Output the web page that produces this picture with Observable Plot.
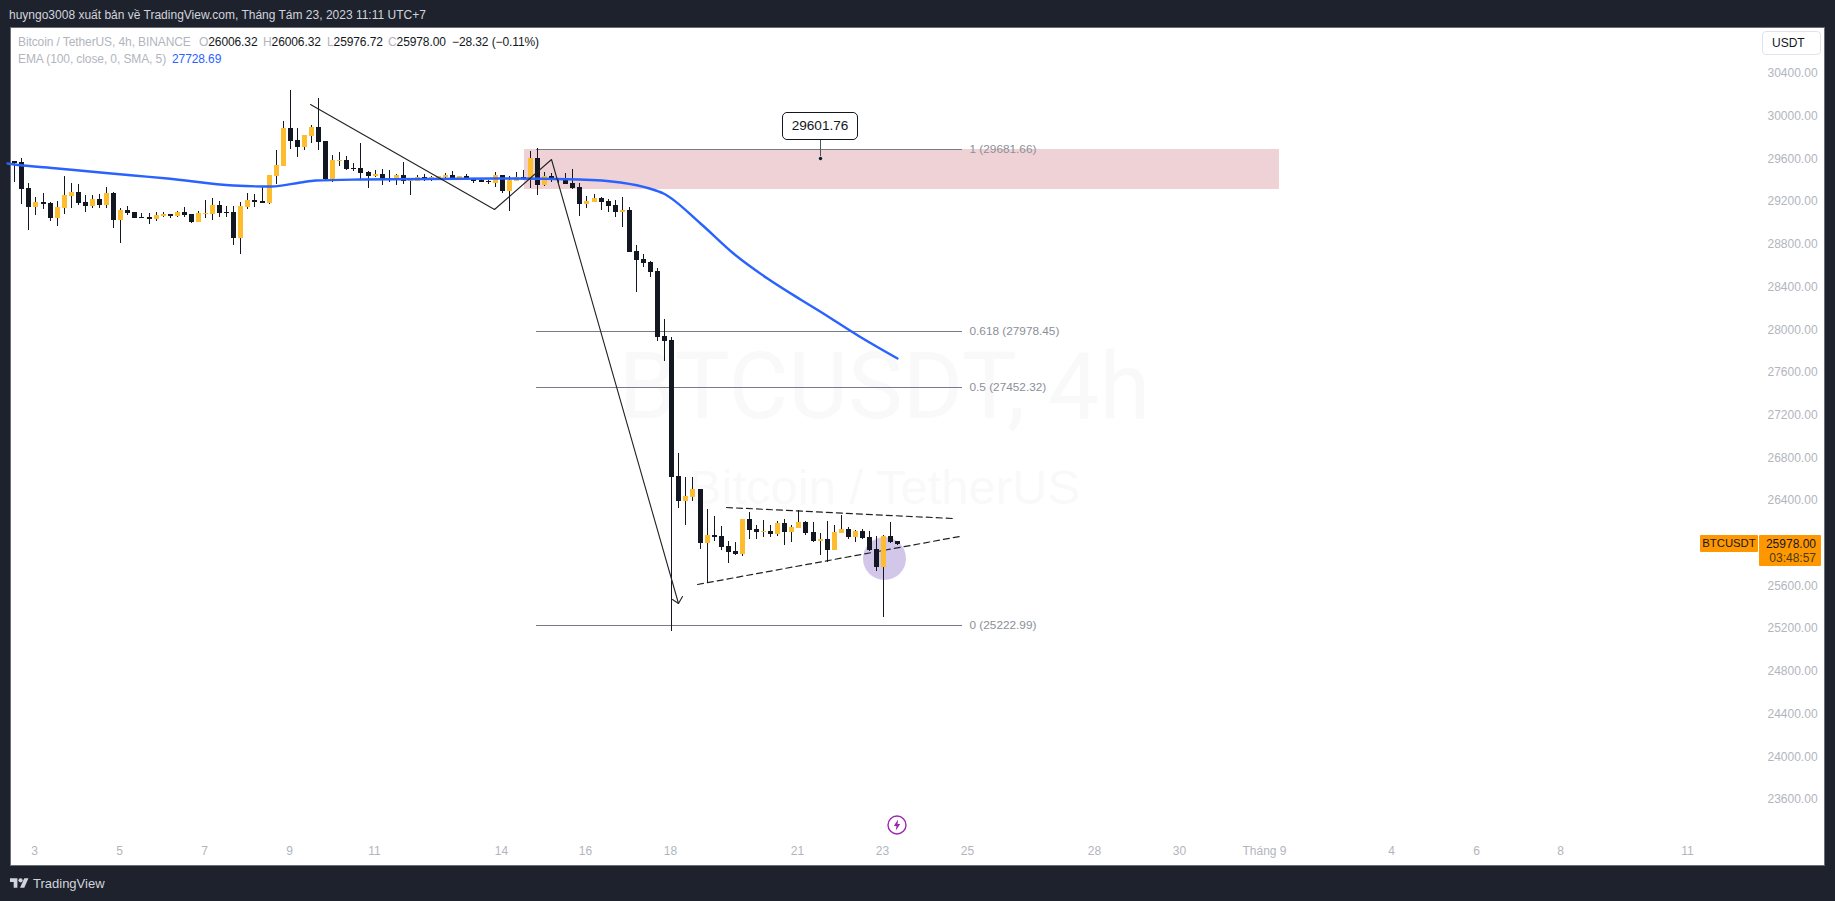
<!DOCTYPE html>
<html><head><meta charset="utf-8">
<script src="https://cdn.jsdelivr.net/npm/d3@7"></script>
<script src="https://cdn.jsdelivr.net/npm/@observablehq/plot@0.6"></script>
<style>
html,body{margin:0;padding:0;background:#1e222d;width:1835px;height:901px;overflow:hidden;font-family:"Liberation Sans",Arial,sans-serif}
#head{position:absolute;left:9px;top:7px;font-size:12px;line-height:16px;color:#d1d4dc;white-space:nowrap}
#panel{position:absolute;left:11px;top:28px;width:1813px;height:837px;background:#fff;outline:1px solid #6a6d78}
#panel svg{display:block}
.ov{position:absolute;white-space:nowrap}
.lg{font-size:12px;line-height:14px;color:#b2b5be;letter-spacing:-.1px}
.lg b{font-weight:400;color:#131722}
#foot{position:absolute;left:10px;top:875px;height:16px;display:flex;align-items:center;gap:4px;color:#d1d4dc;font-size:13px}
</style></head><body>
<div id="head">huyngo3008 xuất bản về TradingView.com, Tháng Tám 23, 2023 11:11 UTC+7</div>
<div id="panel"></div>
<div id="foot"><svg width="19" height="10" viewBox="0 0 36 18"><path fill="#d1d4dc" d="M14 18H7V7H0V0h14v18zM35 0l-8 18h-8l8-18h8z"/><circle cx="20" cy="4" r="4" fill="#d1d4dc"/></svg><span>TradingView</span></div>
<script>
const opens=[29569,29560,29316,29138,29185,29176,29038,29129,29241,29279,
29185,29148,29213,29157,29269,29016,29110,29091,29045,29045,
29026,29054,29073,29054,29091,29073,28998,29073,29073,29157,
29091,29091,28848,29138,29204,29194,29176,29429,29522,29878,
29766,29700,29803,29888,29757,29401,29569,29578,29500,29504,
29466,29429,29447,29401,29401,29438,29382,29382,29419,29391,
29410,29419,29438,29401,29429,29410,29391,29382,29363,29438,
29288,29382,29416,29401,29597,29344,29429,29391,29401,29363,
29326,29170,29185,29223,29194,29157,29091,29110,28726,28651,
28623,28539,27930,27892,26618,26384,26422,26497,25991,26066,
26056,25962,25916,25888,26215,26122,26094,26103,26075,26178,
26094,26131,26187,26094,26009,26028,25925,26084,26122,26047,
26103,26047,25934,25766,26056,26006.32];
const highs=[29569,29594,29363,29232,29269,29185,29194,29429,29363,29354,
29251,29248,29260,29326,29279,29129,29148,29091,29082,29082,
29091,29091,29073,29101,29138,29073,29101,29204,29223,29194,
29148,29148,29185,29269,29260,29326,29438,29672,29944,30234,
29878,29813,29906,30159,29757,29625,29653,29616,29547,29738,
29479,29485,29494,29485,29447,29560,29410,29438,29447,29429,
29429,29457,29476,29429,29447,29413,29410,29391,29466,29438,
29429,29466,29485,29663,29691,29466,29457,29404,29457,29494,
29363,29241,29260,29232,29213,29204,29232,29138,28782,28698,
28632,28567,28089,27920,26831,26609,26609,26497,26309,26244,
26150,26009,26000,26215,26281,26159,26206,26159,26197,26215,
26159,26300,26197,26187,26084,26197,26159,26253,26140,26112,
26122,26103,26056,26066,26187,26006.32];
const lows=[29375,29166,28926,29066,29123,29010,28963,29073,29129,29157,
29091,29129,29129,29129,28942,28801,29063,29035,29035,28979,
29007,29045,29035,29045,29045,28988,28998,29035,29016,29045,
29045,28782,28698,29120,29138,29176,29166,29354,29522,29682,
29607,29675,29738,29672,29391,29375,29522,29485,29476,29397,
29316,29419,29344,29372,29344,29354,29251,29382,29382,29382,
29391,29401,29397,29391,29391,29363,29372,29354,29326,29269,
29104,29382,29391,29316,29251,29335,29372,29363,29354,29307,
29054,29129,29185,29110,29091,29045,28951,28717,28342,28576,
28483,27883,27696,25169,26318,26159,26384,25934,25616,26009,
25925,25803,25878,25869,26028,26028,26047,26047,26056,25972,
26000,26131,26066,26000,25878,25813,25925,26084,26028,26000,
26028,25916,25728,25297,25991,25976.72];
const closes=[29550,29310,29141,29185,29166,29038,29138,29251,29279,29176,
29148,29213,29157,29269,29020,29110,29082,29035,29038,29026,
29063,29073,29054,29091,29063,28998,29082,29082,29157,29082,
29082,28848,29148,29204,29185,29176,29438,29532,29878,29757,
29700,29813,29888,29747,29401,29578,29578,29494,29497,29457,
29429,29447,29401,29410,29438,29382,29391,29419,29391,29419,
29429,29438,29401,29429,29401,29382,29372,29372,29438,29288,
29391,29419,29397,29597,29344,29429,29391,29401,29354,29316,
29166,29194,29223,29185,29148,29091,29110,28717,28642,28614,
28529,27920,27883,26612,26384,26431,26497,25991,26066,26047,
25953,25906,25888,26215,26112,26094,26103,26075,26178,26094,
26140,26187,26084,26009,26028,25925,26094,26122,26047,26103,
26037,25925,25766,26056,26000,25978];

const emaBars=[-1,0,6,12.1,16.8,21.6,31,35.2,36.4,40.4,42.5,48.9,67.7,80,85.7,89.9,91.8,97,101.7,106.5,111.2,113.8,119.6,125];
const emaValues=[29552,29544,29504,29469,29435,29407,29344,29332,29335,29369,29391,29404,29407,29404,29375,29313,29266,28985,28704,28470,28273,28173,27930,27728.69];

const fibLevels=["1","0.618","0.5","0"];
const fibPrices=[29681.66,27978.45,27452.32,25222.99];
const pathBars=[41.9,67.95,75.98,94];
const pathPrices=[30100,29117,29588,25431];
const barbBars=[93.06,94,94.56];
const barbPrices=[25466,25431,25494];
const topDashBars=[100.7,132.8], topDashPrices=[26325,26222];
const lowDashBars=[96.7,133.8], lowDashPrices=[25606,26056];

const tickDates=["2023-08-03","2023-08-05","2023-08-07","2023-08-09","2023-08-11","2023-08-14","2023-08-16","2023-08-18","2023-08-21","2023-08-23","2023-08-25","2023-08-28","2023-08-30","2023-09-01","2023-09-04","2023-09-06","2023-09-08","2023-09-11"];
const tickLabels=["3","5","7","9","11","14","16","18","21","23","25","28","30","Tháng 9","4","6","8","11"];
const priceTicks=d3.range(23600,30401,400);

const barTime=i=>new Date(Date.UTC(2023,7,2,12)+i*4*3600e3);
const candles=opens.map((o,i)=>({t:barTime(i),o,h:highs[i],l:lows[i],c:closes[i]}));
const up=candles.filter(d=>d.c>=d.o), down=candles.filter(d=>d.c<d.o);
const ema=emaBars.map((b,i)=>({t:barTime(b),v:emaValues[i]}));
const tiePath=(bs,ps)=>bs.map((b,i)=>({t:barTime(b),v:ps[i]}));
const fibStart=barTime(73.85), fibEnd=barTime(134.2), fibLabel=barTime(135.2);
const fibs=fibLevels.map((l,i)=>({l,p:fibPrices[i]}));
const tickT=tickDates.map(s=>new Date(s+"T00:00Z"));
const labelOf=new Map(tickT.map((d,i)=>[+d,tickLabels[i]]));
const mid=barTime(123.1);

const W=1813,H=837;
const chart=Plot.plot({
  width:W,height:H,marginLeft:0,marginTop:0,marginRight:57,marginBottom:22,
  style:{background:"#fff",fontFamily:"'Liberation Sans',Arial,sans-serif",fontSize:"12px",overflow:"visible"},
  x:{type:"utc",domain:[barTime(0),barTime(125)],range:[3.3,886.3],round:true},
  y:{type:"linear",domain:[30400,23600],range:[44.3,770.3],round:true},
  marks:[
    Plot.text([{t:mid,v:27440}],{x:"t",y:"v",text:()=>"BTCUSDT, 4h",fontSize:92,fontFamily:"Roboto",fill:"#f9f9fa",textAnchor:"middle"}),
    Plot.text([{t:mid,v:26509}],{x:"t",y:"v",text:()=>"Bitcoin / TetherUS",fontSize:49,fill:"#f9f9fa",textAnchor:"middle"}),
    Plot.axisY({anchor:"right",ticks:priceTicks,tickSize:0,tickPadding:0,dy:1,tickFormat:d3.format(".2f"),label:null,fill:"#b2b5be",stroke:null}),
    Plot.axisX({anchor:"bottom",ticks:tickT,tickSize:0,tickPadding:3,dx:-1,label:null,tickFormat:d=>labelOf.get(+d),fill:"#b2b5be",stroke:null}),
    Plot.rect([{a:barTime(72.15),b:barTime(179),t:29681.66,u:29307}],{x1:"a",x2:"b",y1:"t",y2:"u",fill:"#efd2d5"}),
    Plot.dot([{t:mid,v:25847}],{x:"t",y:"v",r:21.5,fill:"#d3c7e9"}),
    Plot.ruleY(fibs,{y:"p",x1:fibStart,x2:fibEnd,stroke:"#787b86",strokeWidth:1}),
    Plot.text(fibs,{x:fibLabel,y:"p",text:d=>`${d.l} (${d.p.toFixed(2)})`,textAnchor:"start",fill:"#8c8f98",fontSize:11.8}),
    Plot.line(tiePath(topDashBars,topDashPrices),{x:"t",y:"v",stroke:"#222",strokeWidth:1.2,strokeDasharray:"6,4"}),
    Plot.line(tiePath(lowDashBars,lowDashPrices),{x:"t",y:"v",stroke:"#222",strokeWidth:1.2,strokeDasharray:"6,4"}),
    Plot.ruleX(candles,{x:"t",y1:"h",y2:"l",stroke:"#131722",strokeWidth:1}),
    Plot.ruleX(up,{x:"t",y1:"o",y2:"c",stroke:"#fdbd2f",strokeWidth:5}),
    Plot.ruleX(down,{x:"t",y1:"o",y2:"c",stroke:"#131722",strokeWidth:5}),
    Plot.line(ema,{x:"t",y:"v",stroke:"#2962ff",strokeWidth:2.4,curve:"monotone-x"}),
    Plot.line(tiePath(pathBars,pathPrices),{x:"t",y:"v",stroke:"#222",strokeWidth:1.1}),
    Plot.line(tiePath(barbBars,barbPrices),{x:"t",y:"v",stroke:"#222",strokeWidth:1.1}),
    Plot.dot([{t:barTime(114),v:29601.76}],{x:"t",y:"v",r:2.2,fill:"#131722",stroke:"#fff",strokeWidth:0.8})
  ]
});
const panel=document.getElementById("panel");
panel.append(chart);
function add(html,css,cls){const d=document.createElement("div");d.className="ov "+(cls||"");d.innerHTML=html;d.style.cssText=css;panel.append(d);return d;}
const xs=chart.scale("x"),ys=chart.scale("y");
/* legend */
add("Bitcoin / TetherUS, 4h, BINANCE","left:7px;top:7px","lg");
[["O","26006.32",188],["H","26006.32",252],["L","25976.72",316],["C","25978.00",377]].forEach(([k,v,l])=>add(k+"<b>"+v+"</b>",`left:${l}px;top:7px`,"lg"));
add("<b>−28.32 (−0.11%)</b>","left:441px;top:7px","lg");
add("EMA (100, close, 0, SMA, 5)","left:7px;top:24px","lg");
add('<span style="color:#2962ff">27728.69</span>',"left:161px;top:24px","lg");
/* USDT button */
add("USDT","left:1751px;top:3px;width:59px;height:24px;box-sizing:border-box;border:1px solid #e0e3eb;border-radius:4px;font-size:12px;line-height:22px;color:#131722;padding-left:9px;background:#fff");
/* price label */
const py=ys.apply(25978);
add("BTCUSDT",`left:1689px;top:${py-9}px;width:58px;height:17px;background:#ff9800;color:#131722;font-size:11.3px;line-height:17px;text-align:center;border-radius:1px`);
add('25978.00<br><span style="color:#4a3a10">03:48:57</span>',`left:1748px;top:${py-9}px;width:62px;height:31px;background:#ff9800;color:#131722;font-size:12px;line-height:14px;text-align:right;padding:2px 5px 0 0;box-sizing:border-box;border-radius:1px`);
/* callout */
const cx=xs.apply(barTime(114)),cy=ys.apply(29601.76);
add("",`left:${cx-0.5}px;top:${cy-19}px;width:1.5px;height:17px;background:#50535e`);
add("29601.76",`left:${cx-38}px;top:${cy-46}px;width:76px;height:28px;box-sizing:border-box;border:1.2px solid #131722;border-radius:5px;background:#fff;color:#131722;font-size:13.6px;line-height:25px;text-align:center`);
/* event icon */
add('<svg width="20" height="20" viewBox="0 0 20 20"><circle cx="10" cy="10" r="9" fill="#fff" stroke="#9c27b0" stroke-width="1.4"/><path d="M11 4.5 6.8 11h2.6L8.8 15.5 13.2 9h-2.6z" fill="#9c27b0"/></svg>',`left:${xs.apply(barTime(125))-10}px;top:787px;line-height:0`);
</script>
</body></html>
